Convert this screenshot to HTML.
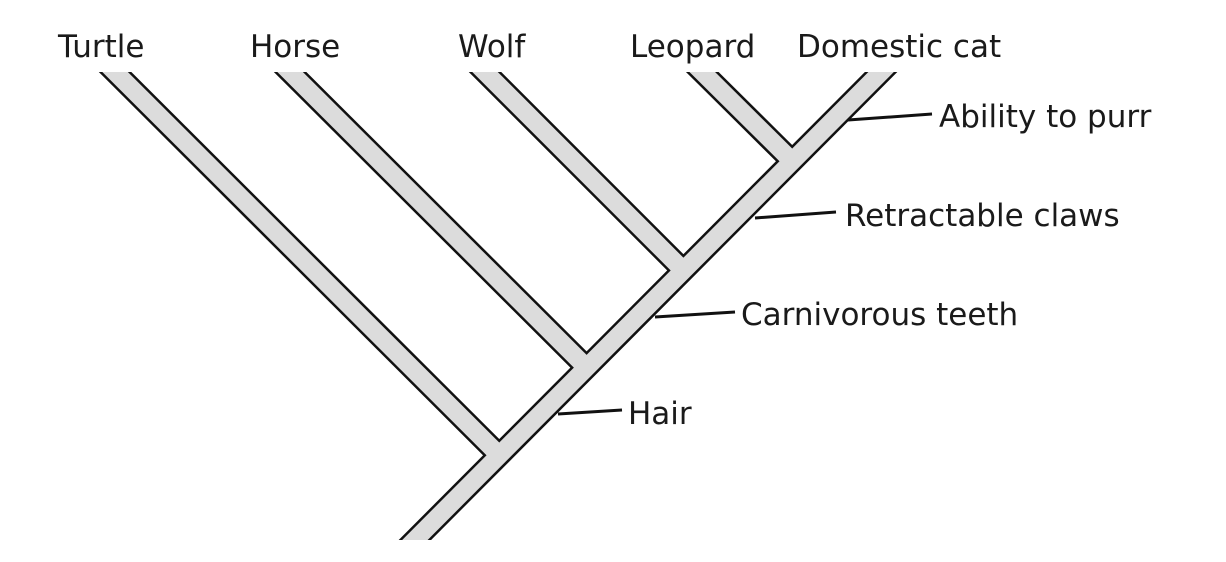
<!DOCTYPE html>
<html><head><style>
body{margin:0;background:#fff;width:1226px;height:562px;overflow:hidden}
svg{position:absolute;left:0;top:0}
text{font-family:"DejaVu Sans","Liberation Sans",sans-serif;font-size:31px;fill:#1a1a1a}
</style></head><body>
<svg width="1226" height="562" viewBox="0 0 1226 562">
<defs><clipPath id="c"><rect x="0" y="72" width="1226" height="468"/></clipPath></defs>
<g clip-path="url(#c)" stroke-linecap="butt">
 <g stroke="#111" stroke-width="23">
  <line x1="385" y1="570" x2="911" y2="42"/>
  <line x1="85" y1="42" x2="499" y2="455"/>
  <line x1="260" y1="42" x2="586" y2="367"/>
  <line x1="455" y1="42" x2="683" y2="270"/>
  <line x1="672" y1="42" x2="792" y2="161"/>
 </g>
 <g stroke="#dcdcdc" stroke-width="18">
  <line x1="385" y1="570" x2="911" y2="42"/>
  <line x1="85" y1="42" x2="499" y2="455"/>
  <line x1="260" y1="42" x2="586" y2="367"/>
  <line x1="455" y1="42" x2="683" y2="270"/>
  <line x1="672" y1="42" x2="792" y2="161"/>
 </g>
</g>
<g stroke="#111" stroke-width="3">
 <line x1="848" y1="120" x2="932" y2="114"/>
 <line x1="755" y1="218" x2="836" y2="212"/>
 <line x1="655" y1="317" x2="735" y2="312"/>
 <line x1="558" y1="414" x2="622" y2="410"/>
</g>
<text x="58" y="57">Turtle</text>
<text x="250" y="57">Horse</text>
<text x="458" y="57">Wolf</text>
<text x="630" y="57">Leopard</text>
<text x="797" y="57">Domestic cat</text>
<text x="939" y="127">Ability to purr</text>
<text x="845" y="226">Retractable claws</text>
<text x="741" y="325">Carnivorous teeth</text>
<text x="628" y="424">Hair</text>
</svg>
</body></html>
